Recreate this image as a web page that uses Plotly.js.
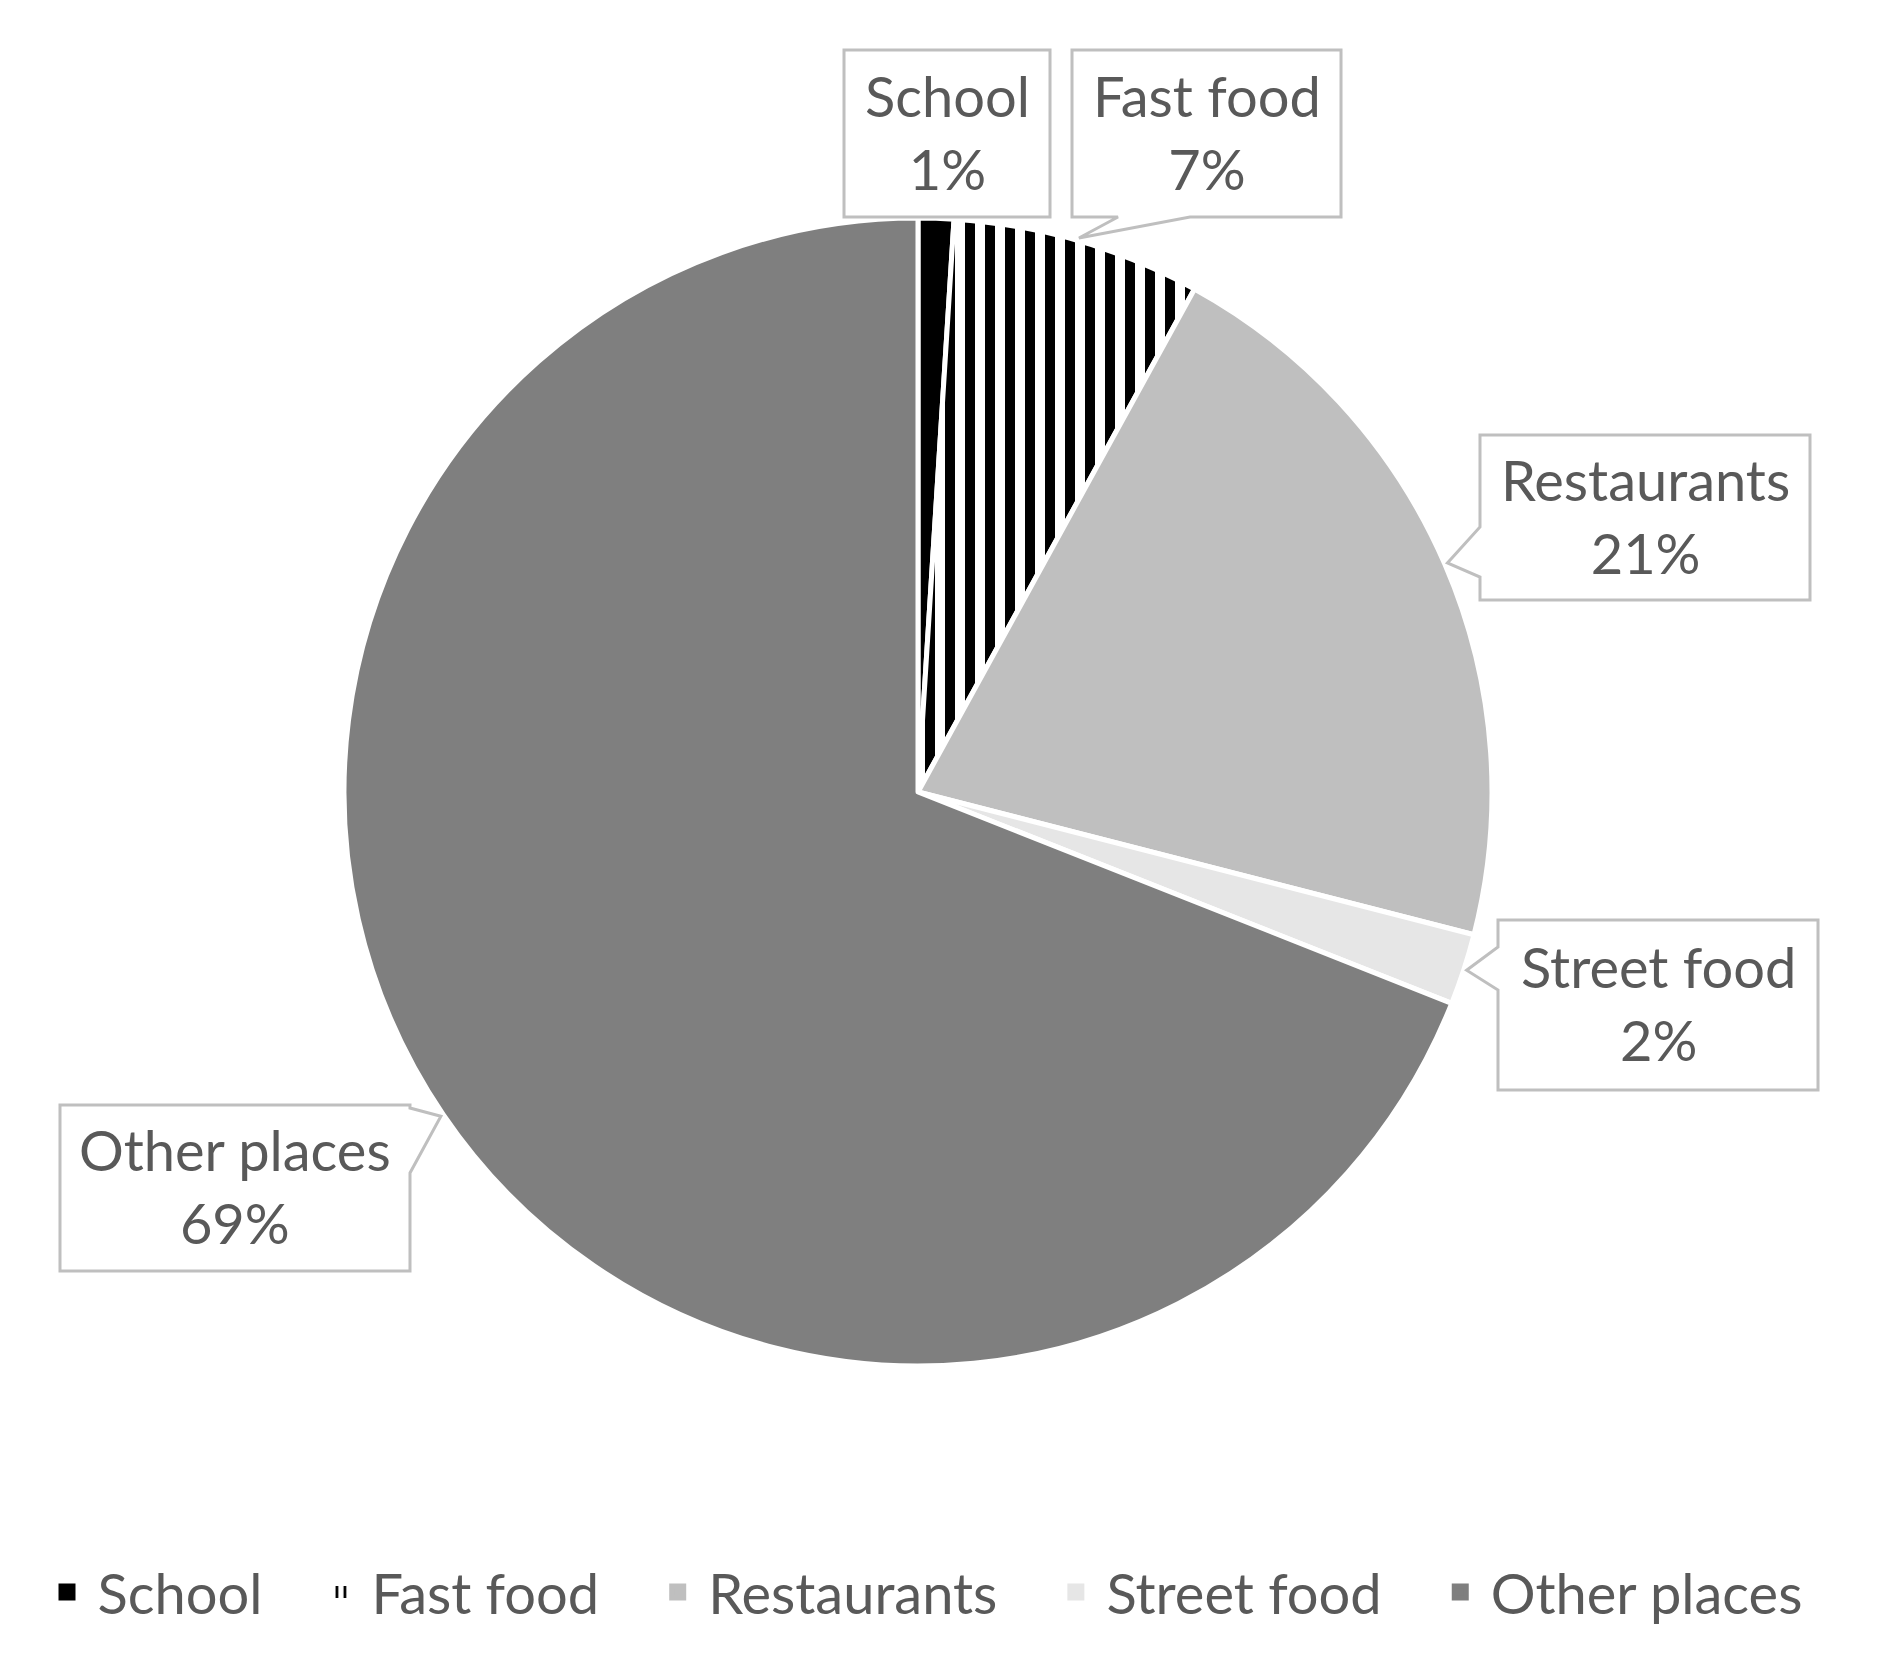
<!DOCTYPE html>
<html>
<head>
<meta charset="utf-8">
<script src="https://cdn.plot.ly/plotly-3.0.1.min.js"></script>
<style>html,body{margin:0;padding:0;background:#fff;}#chart{width:1879px;height:1665px;}</style>
</head>
<body>
<div id="chart"></div>
<script>
// ---- data ----
const labels = ["School", "Fast food", "Restaurants", "Street food", "Other places"];
const values = [1, 7, 21, 2, 69];
const sliceColors = ["#000000", "#ffffff", "#bfbfbf", "#e6e6e6", "#7f7f7f"];
const patternShapes = ["", "|", "", "", ""];

// ---- layout constants (px) ----
const W = 1879, H = 1665;
const cx = 918, cy = 792, R = 574;
// callout boxes: [left, top, right, bottom] in px
const boxes = [[844, 50, 1050, 217], [1072, 50, 1341, 217], [1480, 435, 1810, 600], [1498, 920, 1818, 1090], [60, 1105, 410, 1271]];
// callout pointer: side of box and base span along that side (px); null = no pointer
const pointers = [null, ["bottom", 1118, 1190], ["left", 527, 577], ["left", 947, 990], ["right", 1108, 1173]];

const FONT = "Lato, 'Open Sans', sans-serif";
const GREY = "#595959";
const BORDER = "#bfbfbf";

const px2x = (x) => x / W;
const px2y = (y) => 1 - y / H;

const total = values.reduce((a, b) => a + b, 0);
let cum = 0;
const annotations = [];
const shapes = [];
values.forEach((v, i) => {
  const mid = (cum + v / 2) / total * 2 * Math.PI;
  cum += v;
  const tipX = cx + R * 1.005 * Math.sin(mid);
  const tipY = cy - R * 1.005 * Math.cos(mid);
  const [L, T, Rr, B] = boxes[i];
  const p = pointers[i];
  const pts = [[L, T], [Rr, T]];
  if (p && p[0] === "right") pts.push([Rr, p[1]], [tipX, tipY], [Rr, p[2]]);
  pts.push([Rr, B]);
  if (p && p[0] === "bottom") pts.push([p[2], B], [tipX, tipY], [p[1], B]);
  pts.push([L, B]);
  if (p && p[0] === "left") pts.push([L, p[2]], [tipX, tipY], [L, p[1]]);
  const path = pts.map((q, k) => (k ? "L" : "M") + px2x(q[0]).toFixed(5) + "," + px2y(q[1]).toFixed(5)).join(" ") + " Z";
  shapes.push({type: "path", xref: "paper", yref: "paper", path: path,
    fillcolor: "#ffffff", line: {color: BORDER, width: 3}, layer: "above"});
  annotations.push({
    xref: "paper", yref: "paper",
    x: px2x((L + Rr) / 2), y: px2y((T + B) / 2 - 2), xanchor: "center", yanchor: "middle",
    showarrow: false,
    text: labels[i] + "<br>" + Math.round(v / total * 100) + "%",
    font: {family: FONT, size: 56, color: GREY},
    align: "center"
  });
});

const pad = "\u00a0".repeat(3);
const legendLabels = labels.map((l, i) => i < labels.length - 1 ? l + pad : l);

// trace used only for the legend swatches (hidden beneath the main pie)
const legendTrace = {
  type: "pie",
  labels: legendLabels,
  values: values,
  sort: false, direction: "clockwise", rotation: 0,
  textinfo: "none", hoverinfo: "skip",
  marker: {
    colors: sliceColors,
    line: {color: ["#000000", "rgba(0,0,0,0)", "#bfbfbf", "#e6e6e6", "#7f7f7f"], width: 10},
    pattern: {shape: patternShapes, fgcolor: "#000000", fgopacity: 1, size: 8, solidity: 0.35}
  },
  domain: {x: [px2x(cx - 1), px2x(cx + 1)], y: [px2y(cy + 1), px2y(cy - 1)]}
};

const trace = {
  type: "pie",
  labels: legendLabels,
  values: values,
  sort: false, direction: "clockwise", rotation: 0,
  textinfo: "none",
  hoverinfo: "label+percent",
  showlegend: false,
  marker: {
    colors: sliceColors,
    line: {color: "#ffffff", width: 5},
    pattern: {shape: patternShapes, fgcolor: "#000000", fgopacity: 1, size: 20, solidity: 0.5}
  },
  domain: {x: [px2x(cx - R), px2x(cx + R)], y: [px2y(cy + R), px2y(cy - R)]}
};

const layout = {
  width: W, height: H,
  margin: {l: 0, r: 0, t: 0, b: 0},
  paper_bgcolor: "#ffffff",
  showlegend: true,
  legend: {
    orientation: "h", x: px2x(922), xanchor: "center", y: px2y(1592), yanchor: "middle",
    font: {family: FONT, size: 56, color: GREY},
    itemwidth: 51,
    traceorder: "normal"
  },
  shapes: shapes,
  annotations: annotations
};

Plotly.newPlot("chart", [legendTrace, trace], layout, {displayModeBar: false, staticPlot: true});
</script>
</body>
</html>
